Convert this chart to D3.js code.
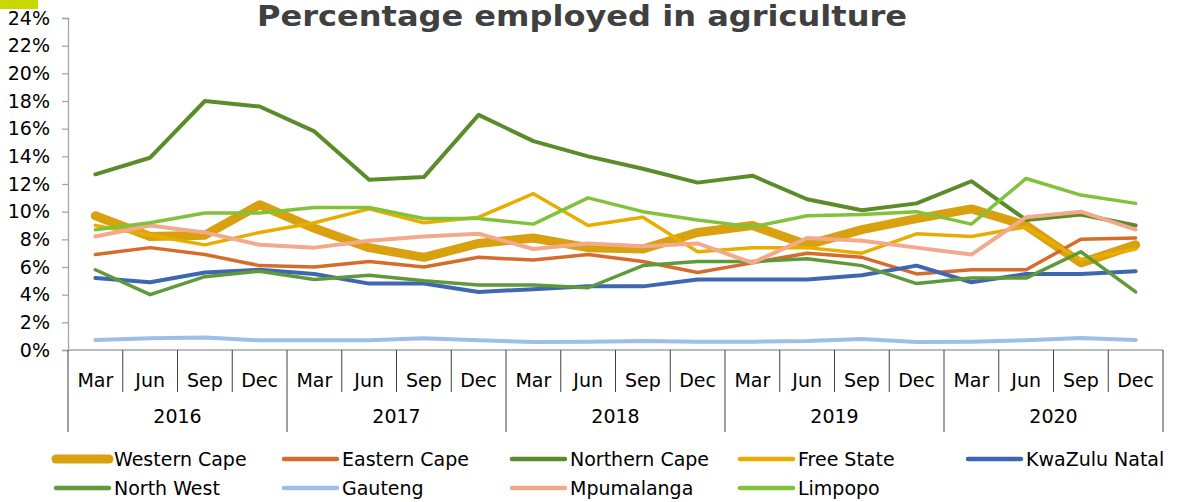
<!DOCTYPE html>
<html>
<head>
<meta charset="utf-8">
<script src="https://cdn.jsdelivr.net/npm/d3@7"></script>
<style>
  body { margin: 0; background: #fff; }
  svg { display: block; font-family: "DejaVu Sans", sans-serif; }
</style>
</head>
<body>
<div id="chart"></div>
<script>
var width = 1181;
var height = 502;

// quarters and years
var years = ["2016", "2017", "2018", "2019", "2020"];
var months = ["Mar", "Jun", "Sep", "Dec"];
var quarters = [];
years.forEach(function(y) {
  months.forEach(function(m) { quarters.push(y + "-" + m); });
});

var yTicks = [0, 0.02, 0.04, 0.06, 0.08, 0.10, 0.12, 0.14, 0.16, 0.18, 0.20, 0.22, 0.24];

// share employed in agriculture, by province (%), Mar 2016 .. Dec 2020
var westernCape  = [9.7, 8.2, 8.3, 10.5, 8.8, 7.4, 6.7, 7.7, 8.1, 7.4, 7.3, 8.5, 9.0, 7.6, 8.7, 9.5, 10.2, 9.0, 6.3, 7.6];
var easternCape  = [6.9, 7.4, 6.9, 6.1, 6.0, 6.4, 6.0, 6.7, 6.5, 6.9, 6.4, 5.6, 6.3, 7.0, 6.7, 5.5, 5.8, 5.8, 8.0, 8.1];
var northernCape = [12.7, 13.9, 18.0, 17.6, 15.8, 12.3, 12.5, 17.0, 15.1, 14.0, 13.1, 12.1, 12.6, 10.9, 10.1, 10.6, 12.2, 9.4, 9.8, 9.0];
var freeState    = [9.0, 8.3, 7.6, 8.5, 9.2, 10.2, 9.2, 9.6, 11.3, 9.0, 9.6, 7.1, 7.4, 7.4, 7.0, 8.4, 8.2, 8.9, 6.5, 7.3];
var kwaZuluNatal = [5.2, 4.9, 5.6, 5.8, 5.5, 4.8, 4.8, 4.2, 4.4, 4.6, 4.6, 5.1, 5.1, 5.1, 5.4, 6.1, 4.9, 5.5, 5.5, 5.7];
var northWest    = [5.8, 4.0, 5.3, 5.7, 5.1, 5.4, 5.0, 4.7, 4.7, 4.5, 6.1, 6.4, 6.4, 6.6, 6.1, 4.8, 5.2, 5.2, 7.1, 4.2];
var gauteng      = [0.72, 0.85, 0.9, 0.7, 0.7, 0.7, 0.85, 0.7, 0.57, 0.6, 0.65, 0.6, 0.6, 0.65, 0.8, 0.58, 0.6, 0.7, 0.87, 0.73];
var mpumalanga   = [8.2, 9.0, 8.5, 7.6, 7.4, 7.9, 8.2, 8.4, 7.3, 7.7, 7.5, 7.7, 6.3, 8.1, 7.9, 7.4, 6.9, 9.6, 10.0, 8.7];
var limpopo      = [8.7, 9.2, 9.9, 9.9, 10.3, 10.3, 9.5, 9.5, 9.1, 11.0, 10.0, 9.4, 8.9, 9.7, 9.8, 10.0, 9.1, 12.4, 11.2, 10.6];

var series = [
  { name: "Western Cape",  values: westernCape,  color: "#d9a00f", w: 9 },
  { name: "Eastern Cape",  values: easternCape,  color: "#d66c2c", w: 3.5 },
  { name: "Northern Cape", values: northernCape, color: "#5b8c29", w: 4 },
  { name: "Free State",    values: freeState,    color: "#e9ad00", w: 3.5 },
  { name: "KwaZulu Natal", values: kwaZuluNatal, color: "#3e66b1", w: 4 },
  { name: "North West",    values: northWest,    color: "#5e9a3a", w: 3.5 },
  { name: "Gauteng",       values: gauteng,      color: "#9dbee6", w: 4 },
  { name: "Mpumalanga",    values: mpumalanga,   color: "#f3a98c", w: 4 },
  { name: "Limpopo",       values: limpopo,      color: "#80c23a", w: 3.5 }
];

var margin = { left: 68, right: 18, top: 18, bottom: 152 };

var svg = d3.select("#chart")
  .append("svg")
  .attr("width", width)
  .attr("height", height);

// small lime corner block
svg.append("rect")
  .attr("x", 0).attr("y", 0)
  .attr("width", 38).attr("height", 9)
  .attr("fill", "#c8d800");

var x = d3.scaleBand()
  .domain(quarters)
  .range([margin.left, width - margin.right]);

var xYear = d3.scaleBand()
  .domain(years)
  .range([margin.left, width - margin.right]);

var y = d3.scaleLinear()
  .domain([0, 0.24])
  .range([height - margin.bottom, margin.top]);

// title
svg.append("text")
  .attr("x", 582)
  .attr("y", 26)
  .attr("text-anchor", "middle")
  .attr("font-size", 29)
  .attr("font-weight", "bold")
  .attr("fill", "#404040")
  .attr("textLength", 650)
  .attr("lengthAdjust", "spacingAndGlyphs")
  .text("Percentage employed in agriculture");

// y axis
var yAxis = svg.append("g")
  .attr("transform", "translate(" + margin.left + ",0)")
  .call(d3.axisLeft(y).tickValues(yTicks).tickFormat(d3.format(".0%")).tickSize(6).tickPadding(12));
yAxis.select(".domain").attr("stroke", "#a6a6a6").attr("stroke-width", 1.3);
yAxis.selectAll(".tick line").attr("stroke", "#a6a6a6").attr("stroke-width", 1.3);
yAxis.selectAll(".tick text")
  .attr("font-size", 19)
  .attr("font-family", "DejaVu Sans")
  .attr("fill", "#000");

// x axis baseline
var y0 = y(0);
svg.append("line")
  .attr("x1", margin.left).attr("x2", width - margin.right)
  .attr("y1", y0).attr("y2", y0)
  .attr("stroke", "#a6a6a6").attr("stroke-width", 1.3);

// month separators
var xAxis = svg.append("g").attr("class", "x-axis");
quarters.forEach(function(q, i) {
  if (i % 4 === 0) return;
  xAxis.append("line")
    .attr("x1", x(q)).attr("x2", x(q))
    .attr("y1", y0).attr("y2", y0 + 42)
    .attr("stroke", "#404040");
});
// year separators (incl. both ends)
years.concat(["end"]).forEach(function(yr) {
  var xx = yr === "end" ? xYear.range()[1] : xYear(yr);
  xAxis.append("line")
    .attr("x1", xx).attr("x2", xx)
    .attr("y1", y0).attr("y2", y0 + 82)
    .attr("stroke", "#404040");
});

xAxis.selectAll(".month")
  .data(quarters)
  .enter()
  .append("text")
  .attr("class", "month")
  .attr("x", function(d) { return x(d) + x.bandwidth() / 2; })
  .attr("y", y0 + 37)
  .attr("text-anchor", "middle")
  .attr("font-size", 19)
  .attr("fill", "#000")
  .text(function(d) { return d.split("-")[1]; });

xAxis.selectAll(".year")
  .data(years)
  .enter()
  .append("text")
  .attr("class", "year")
  .attr("x", function(d) { return xYear(d) + xYear.bandwidth() / 2; })
  .attr("y", y0 + 73)
  .attr("text-anchor", "middle")
  .attr("font-size", 19)
  .attr("fill", "#000")
  .text(function(d) { return d; });

// lines
var line = d3.line()
  .x(function(d, i) { return x(quarters[i]) + x.bandwidth() / 2; })
  .y(function(d) { return y(d / 100); });

svg.append("g")
  .selectAll("path")
  .data(series)
  .enter()
  .append("path")
  .attr("d", function(d) { return line(d.values); })
  .attr("fill", "none")
  .attr("stroke", function(d) { return d.color; })
  .attr("stroke-width", function(d) { return d.w; })
  .attr("stroke-linejoin", "round")
  .attr("stroke-linecap", "round");

// legend
var legend = svg.append("g");
var item = legend.selectAll("g")
  .data(series)
  .enter()
  .append("g")
  .attr("transform", function(d, i) {
    var col = i < 5 ? i : i - 5;
    var row = i < 5 ? 0 : 1;
    return "translate(" + (56 + col * 228) + "," + (459 + row * 29) + ")";
  });

item.append("line")
  .attr("x1", 0).attr("x2", 53)
  .attr("y1", 0).attr("y2", 0)
  .attr("stroke", function(d) { return d.color; })
  .attr("stroke-width", function(d) { return d.w > 5 ? 9 : 4.5; })
  .attr("stroke-linecap", "round");

item.append("text")
  .attr("x", 58)
  .attr("y", 7)
  .attr("font-size", 19)
  .attr("fill", "#000")
  .text(function(d) { return d.name; });
</script>
</body>
</html>
